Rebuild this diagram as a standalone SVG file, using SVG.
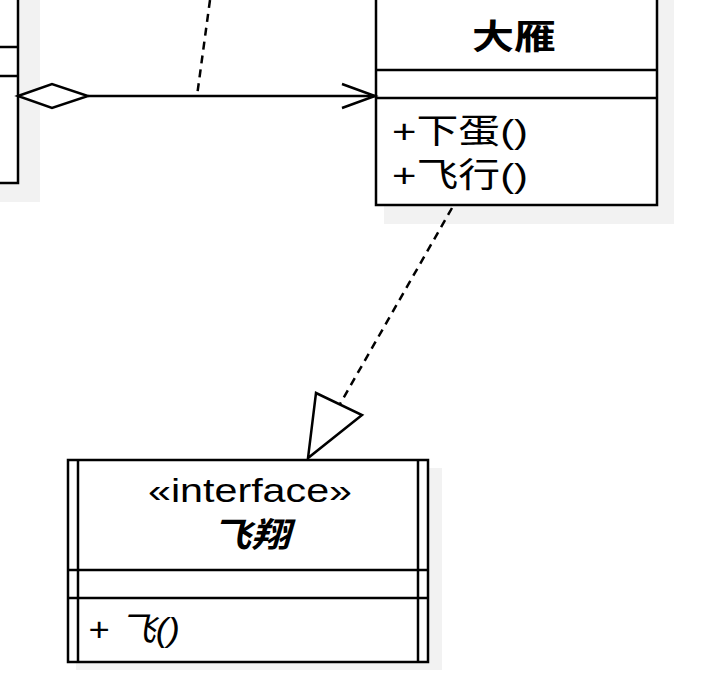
<svg xmlns="http://www.w3.org/2000/svg" width="717" height="673" viewBox="0 0 717 673">
<style>
.b{fill:#fff;stroke:#000;stroke-width:2.5}
.l{stroke:#000;stroke-width:2.5;fill:none}
.d{stroke:#000;stroke-width:2.5;fill:none;stroke-dasharray:8 6}
.sh{fill:#f2f2f2}
text{font-family:"Liberation Sans","Noto Sans CJK SC",sans-serif;font-size:34px;fill:#000}
</style>
<rect width="717" height="673" fill="#fff"/>
<g id="left-class">
<rect class="sh" x="0" y="0" width="40" height="202"/>
<rect class="b" x="-10" y="-10" width="28" height="193"/>
<line class="l" x1="0" y1="47" x2="18" y2="47"/>
<line class="l" x1="0" y1="76" x2="18" y2="76"/>
</g>
<g id="dayan">
<rect class="sh" x="384" y="0" width="290" height="224"/>
<rect class="b" x="376" y="-10" width="281" height="215"/>
<line class="l" x1="376" y1="70" x2="657" y2="70"/>
<line class="l" x1="376" y1="98" x2="657" y2="98"/>
<text x="472" y="49" font-weight="bold" font-size="36" textLength="84" lengthAdjust="spacingAndGlyphs">大雁</text>
<text x="392" y="143" textLength="136" lengthAdjust="spacingAndGlyphs">+下蛋()</text>
<text x="392" y="187" textLength="136" lengthAdjust="spacingAndGlyphs">+飞行()</text>
</g>
<g id="feixiang">
<rect class="sh" x="76" y="468" width="366" height="202"/>
<rect class="b" x="68" y="460" width="360" height="202"/>
<line class="l" x1="78" y1="460" x2="78" y2="662"/>
<line class="l" x1="418" y1="460" x2="418" y2="662"/>
<line class="l" x1="68" y1="570" x2="428" y2="570"/>
<line class="l" x1="68" y1="598" x2="428" y2="598"/>
<text x="148" y="502" font-size="32" textLength="204" lengthAdjust="spacingAndGlyphs">«interface»</text>
<text x="212" y="547" font-weight="bold" font-style="italic" font-size="35" textLength="78" lengthAdjust="spacingAndGlyphs">飞翔</text>
<text x="88" y="641" font-style="italic" font-size="32" textLength="92" lengthAdjust="spacingAndGlyphs">+ 飞()</text>
</g>
<g id="connectors">
<line class="d" x1="210" y1="0" x2="197" y2="96"/>
<line class="l" x1="88" y1="96" x2="375" y2="96"/>
<polygon class="b" points="18,96 52,84 88,96 52,108"/>
<polyline class="l" points="342,84 375,96 342,108"/>
<line class="d" x1="452" y1="208" x2="340" y2="404"/>
<polygon class="b" points="316,393 362,415 308,458"/>
</g>
</svg>
